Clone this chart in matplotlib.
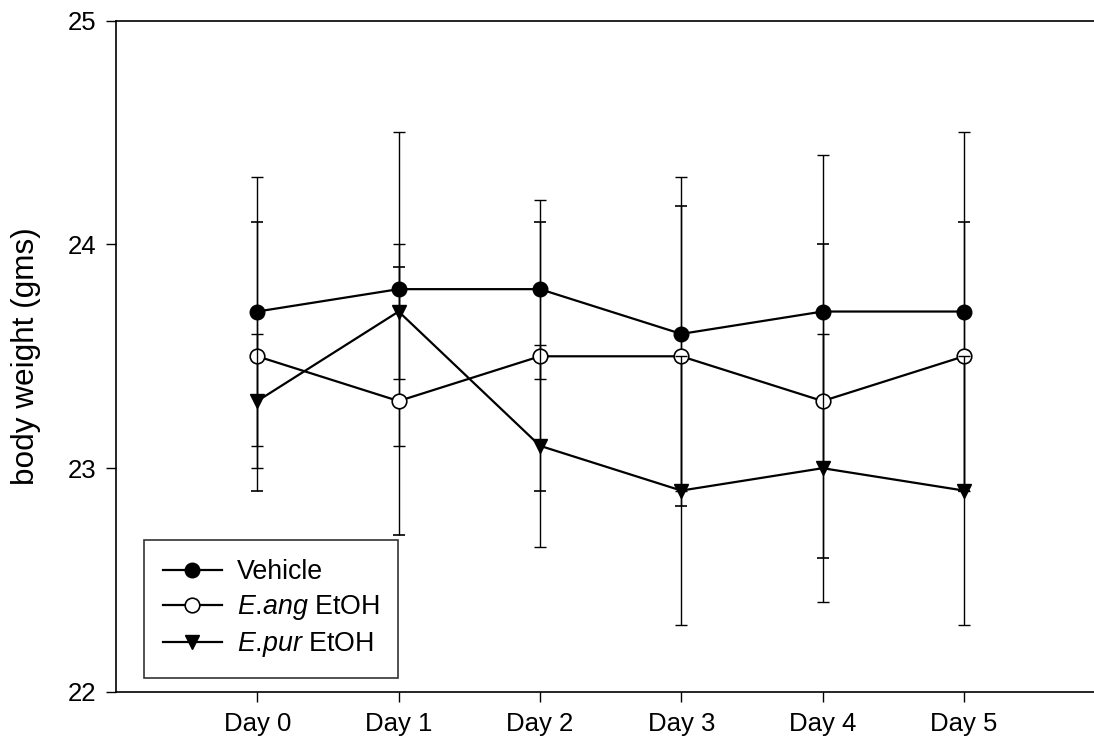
import matplotlib
matplotlib.use("Agg")
import matplotlib.pyplot as plt
from matplotlib.lines import Line2D

plt.rcParams['font.family'] = ['Liberation Sans', 'DejaVu Sans']
plt.rcParams['mathtext.fontset'] = 'custom'
plt.rcParams['mathtext.rm'] = 'Liberation Sans'
plt.rcParams['mathtext.it'] = 'Liberation Sans:italic'

# data
days = ["Day 0", "Day 1", "Day 2", "Day 3", "Day 4", "Day 5"]
x = list(range(len(days)))

vehicle = [23.7, 23.8, 23.8, 23.6, 23.7, 23.7]
vehicle_err = [0.6, 0.7, 0.4, 0.7, 0.7, 0.8]

eang = [23.5, 23.3, 23.5, 23.5, 23.3, 23.5]
eang_err = [0.6, 0.6, 0.6, 0.67, 0.7, 0.6]

epur = [23.3, 23.7, 23.1, 22.9, 23.0, 22.9]
epur_err = [0.3, 0.3, 0.45, 0.6, 0.6, 0.6]

labels = ['Vehicle', r'$\mathit{E}$.$\mathit{ang}$ EtOH', r'$\mathit{E}$.$\mathit{pur}$ EtOH']

FS = 18.5

fig = plt.figure(figsize=(10.94, 7.46), dpi=100)
ax = fig.add_axes([0.106, 0.0724, 0.894, 0.900])

common = dict(color='black', lw=1.6, elinewidth=1.0, capsize=4.3, capthick=1.0, markersize=10.5)
ax.errorbar(x, vehicle, yerr=vehicle_err, fmt='-o', mfc='black', mec='black', zorder=2, **common)
ax.errorbar(x, eang, yerr=eang_err, fmt='-o', mfc='white', mec='black', mew=1.2, zorder=3, **common)
ax.errorbar(x, epur, yerr=epur_err, fmt='-v', mfc='black', mec='black', zorder=4, **common)

ax.set_xlim(-1, 5.92)
ax.set_ylim(22, 25)
ax.set_yticks([22, 23, 24, 25])
ax.set_xticks(x)
ax.set_xticklabels(days)
ax.tick_params(axis='both', labelsize=FS, length=7.2, width=1.0, direction='out', pad=7)
ax.spines['right'].set_visible(False)
for s in ['left', 'top', 'bottom']:
    ax.spines[s].set_linewidth(1.2)
ax.set_ylabel('body weight (gms)', fontsize=22.7, labelpad=19)

handles = [
    Line2D([], [], color='black', lw=1.6, marker='o', mfc='black', mec='black', markersize=10.5),
    Line2D([], [], color='black', lw=1.6, marker='o', mfc='white', mec='black', mew=1.2, markersize=10.5),
    Line2D([], [], color='black', lw=1.6, marker='v', mfc='black', mec='black', markersize=10.5),
]
leg = ax.legend(handles, labels, loc='lower left', bbox_to_anchor=(0.0286, 0.0209), borderaxespad=0,
                fontsize=19.3, frameon=True, fancybox=False, edgecolor='black',
                handlelength=2.2, handletextpad=0.56, labelspacing=0.3,
                borderpad=0.7)
leg.get_frame().set_linewidth(1.2)

fig.savefig("out.png", dpi=100)
